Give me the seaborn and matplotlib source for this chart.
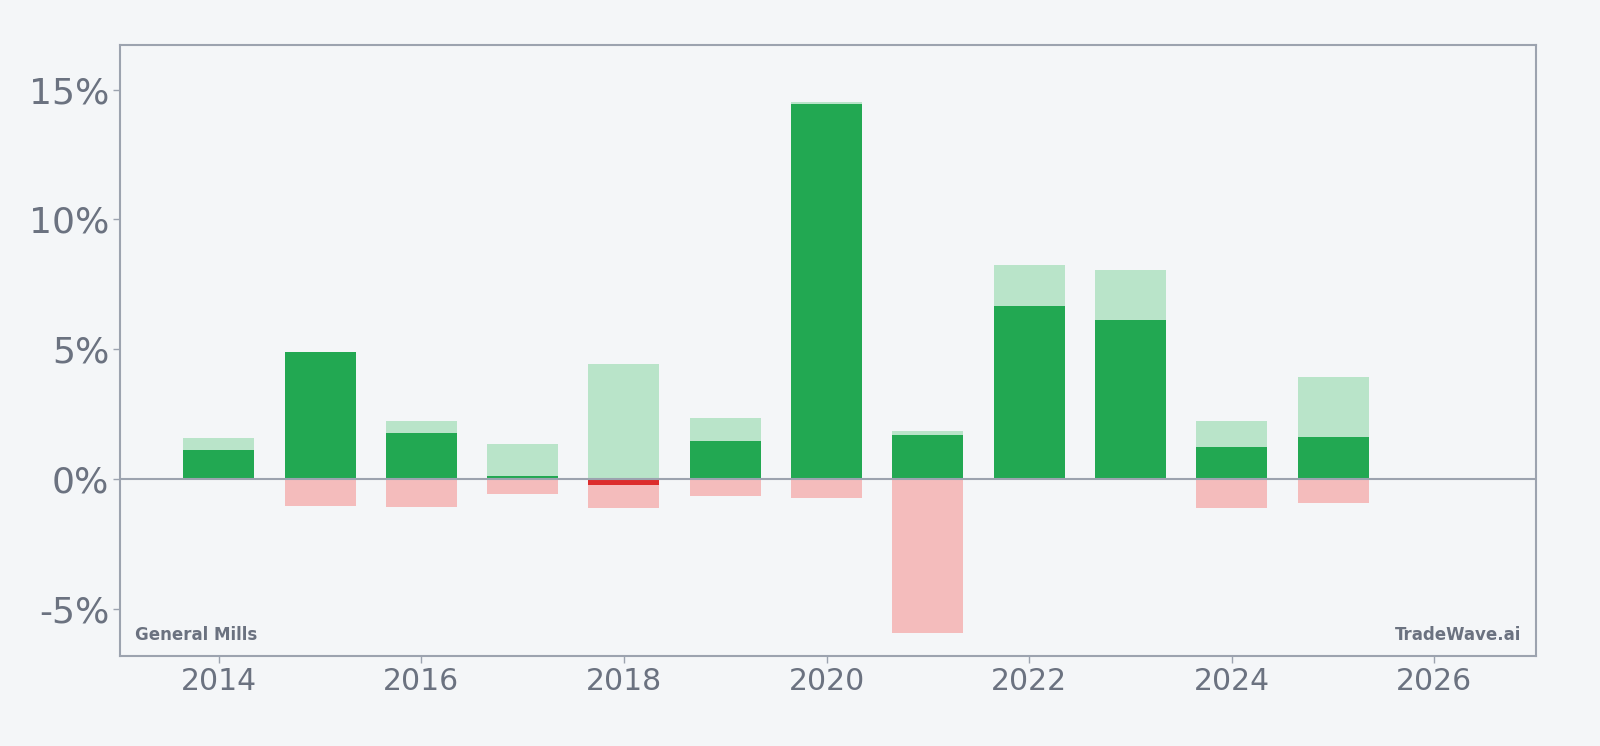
import numpy as np
import pandas as pd
import matplotlib
matplotlib.use("Agg")
import matplotlib.pyplot as plt
import seaborn as sns
from matplotlib.ticker import FuncFormatter

years = [2014, 2015, 2016, 2017, 2018, 2019, 2020, 2021, 2022, 2023, 2024, 2025]
max_gain = [1.58, 4.88, 2.24, 1.34, 4.43, 2.35, 14.54, 1.84, 8.24, 8.05, 2.24, 3.93]
close_ret = [1.11, 4.87, 1.76, 0.12, -0.23, 1.46, 14.45, 1.68, 6.66, 6.12, 1.23, 1.62]
max_loss = [0.0, -1.04, -1.08, -0.58, -1.12, -0.66, -0.73, -5.93, 0.0, 0.0, -1.12, -0.95]
xticks = [2014, 2016, 2018, 2020, 2022, 2024, 2026]
yticks = [-5, 0, 5, 10, 15]

BG = "#f4f6f8"
TXT = "#6b7280"
SPINE = "#9ca3af"
DARK_G = "#22a852"
LIGHT_G = "#b9e4c9"
LIGHT_R = "#f4bcbc"
DARK_R = "#dc2c2c"

sns.set_theme(style="white")
plt.rcParams["font.family"] = ["DejaVu Sans"]

df = pd.DataFrame({"year": years, "max": max_gain, "close": close_ret, "min": max_loss})
df["sign"] = np.where(df["close"] >= 0, "up", "down")

fig, ax = plt.subplots(figsize=(16, 7.46), dpi=100)
fig.patch.set_facecolor(BG)
ax.set_facecolor(BG)

sns.barplot(data=df, x="year", y="max", native_scale=True, width=0.7,
            color=LIGHT_G, saturation=1, ax=ax, errorbar=None)
sns.barplot(data=df, x="year", y="min", native_scale=True, width=0.7,
            color=LIGHT_R, saturation=1, ax=ax, errorbar=None)
sns.barplot(data=df, x="year", y="close", hue="sign", native_scale=True, width=0.7,
            palette={"up": DARK_G, "down": DARK_R}, saturation=1, dodge=False,
            legend=False, ax=ax, errorbar=None)
for p in ax.patches:
    p.set_linewidth(0)

ax.axhline(0, color=SPINE, lw=1.5, zorder=5)

ax.set_xlim(2013.03, 2027.0)
ax.set_ylim(-6.83, 16.72)
ax.set_xticks(xticks)
ax.set_xticklabels([str(x) for x in xticks])
ax.set_yticks(yticks)
ax.yaxis.set_major_formatter(FuncFormatter(lambda v, _: f"{v:.0f}%"))
ax.set_xlabel("")
ax.set_ylabel("")

for s in ax.spines.values():
    s.set_color(SPINE)
    s.set_linewidth(1.5)

ax.tick_params(axis="both", colors=SPINE, labelcolor=TXT,
               direction="out", length=5, width=1, left=True, bottom=True)
ax.tick_params(axis="x", labelsize=21.5, pad=3)
ax.tick_params(axis="y", labelsize=26, pad=3)

ax.text(0.01, 0.02, "General Mills", transform=ax.transAxes, ha="left", va="bottom",
        fontsize=12, fontweight="bold", color=TXT)
ax.text(0.99, 0.02, "TradeWave.ai", transform=ax.transAxes, ha="right", va="bottom",
        fontsize=12, fontweight="bold", color=TXT)

fig.subplots_adjust(left=0.0753, right=0.9598, top=0.9397, bottom=0.1206)
fig.savefig("out.png", dpi=100, facecolor=BG)
